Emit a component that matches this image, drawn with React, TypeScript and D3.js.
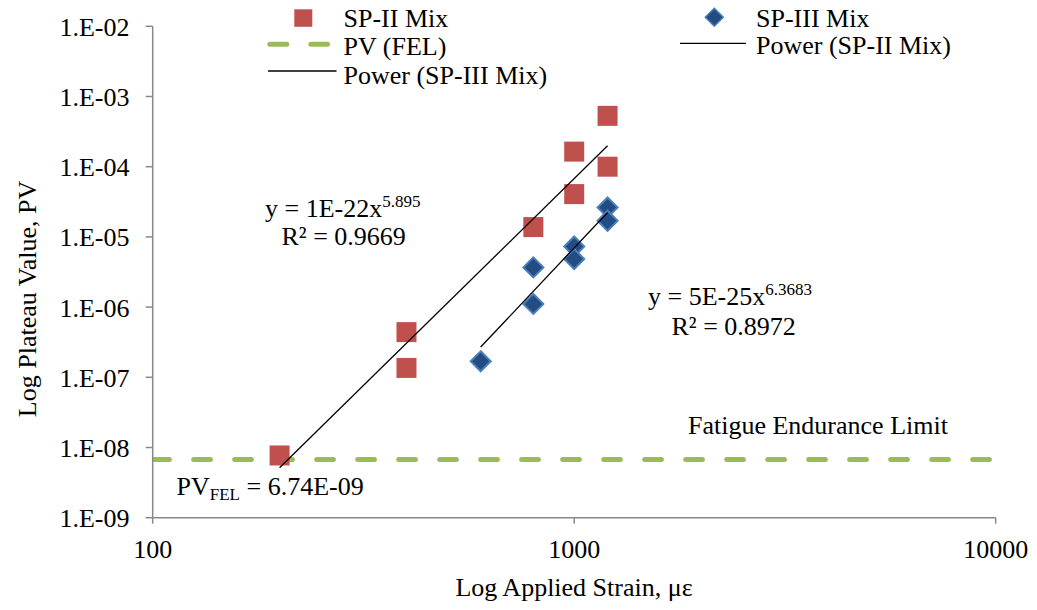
import React from "react";
import * as d3 from "d3";

// ---- Data ----
const sp2Strain = [200, 400, 400, 800, 1000, 1000, 1200, 1200];
const sp2PV = [7.7e-9, 4.4e-7, 1.36e-7, 1.38e-5, 1.64e-4, 4.07e-5, 5.3e-4, 1.0e-4];

const sp3Strain = [600, 800, 800, 1000, 1000, 1200, 1200];
const sp3PV = [1.69e-7, 3.68e-6, 1.11e-6, 7.3e-6, 4.85e-6, 2.63e-5, 1.7e-5];

// power trendlines y = a * x^b
const sp2Trend = { a: 1.4e-22, b: 5.895, from: 200, to: 1200 };
const sp3Trend = { a: 5.48e-25, b: 6.3683, from: 600, to: 1200 };

const pvFEL = 6.74e-9;

const xTicks = [100, 1000, 10000];
const xTickLabels = ["100", "1000", "10000"];
const yTicks = [1e-9, 1e-8, 1e-7, 1e-6, 1e-5, 1e-4, 1e-3, 1e-2];
const yTickLabels = ["1.E-09", "1.E-08", "1.E-07", "1.E-06", "1.E-05", "1.E-04", "1.E-03", "1.E-02"];

const W = 1037;
const H = 610;
const FONT = "'Liberation Serif', 'Times New Roman', serif";
const FS = 26;

const RED = "#C0504D";
const BLUE_FILL = "#234C83";
const BLUE_STROKE = "#4A7EBB";
const GREEN = "#9BBB59";
const AXIS = "#898989";

export default function App() {
  const x = d3.scaleLog().domain([100, 10000]).range([152.7, 995.7]);
  const y = d3.scaleLog().domain([1e-9, 1e-2]).range([517.7, 26.3]);

  const trendPath = (t: { a: number; b: number; from: number; to: number }) => {
    const pts: [number, number][] = [t.from, t.to].map((v) => [x(v), y(t.a * Math.pow(v, t.b))]);
    return d3.line()(pts) as string;
  };

  const sq = 20;
  const dia = 10;
  const diamond = (cx: number, cy: number, r: number) =>
    `M${cx},${cy - r}L${cx + r},${cy}L${cx},${cy + r}L${cx - r},${cy}Z`;

  const [x0, x1] = x.range();
  const [yb, yt] = y.range();

  return (
    <svg
      width={W}
      height={H}
      style={{ position: "absolute", left: 0, top: 0, background: "#fff" }}
      fontFamily={FONT}
    >
      <rect x={0} y={0} width={W} height={H} fill="#fff" />

      {/* FEL line */}
      <defs>
        <clipPath id="plotClip">
          <rect x={x0} y={yt - 20} width={x1 - x0} height={yb - yt + 40} />
        </clipPath>
      </defs>
      <line
        x1={x0}
        x2={x1 - 4}
        y1={y(pvFEL)}
        y2={y(pvFEL)}
        stroke={GREEN}
        strokeWidth={5}
        strokeDasharray="16.7 24.3"
        strokeLinecap="round"
        clipPath="url(#plotClip)"
      />

      {/* axes */}
      <line x1={x0} x2={x0} y1={yt} y2={yb} stroke={AXIS} strokeWidth={1.5} />
      <line x1={x0} x2={x1} y1={yb} y2={yb} stroke={AXIS} strokeWidth={1.5} />
      {yTicks.map((t, i) => (
        <g key={"yt" + i}>
          <line x1={x0 - 7} x2={x0} y1={y(t)} y2={y(t)} stroke={AXIS} strokeWidth={1.5} />
          <text x={129.5} y={y(t) + 9.5} textAnchor="end" fontSize={FS} fill="#000">
            {yTickLabels[i]}
          </text>
        </g>
      ))}
      {xTicks.map((t, i) => (
        <g key={"xt" + i}>
          <line x1={x(t)} x2={x(t)} y1={yb} y2={yb + 6} stroke={AXIS} strokeWidth={1.5} />
          <text x={x(t)} y={557.5} textAnchor="middle" fontSize={FS} fill="#000">
            {xTickLabels[i]}
          </text>
        </g>
      ))}

      {/* axis titles */}
      <text x={574} y={596} textAnchor="middle" fontSize={FS} fill="#000">
        Log Applied Strain, με
      </text>
      <text
        transform={`translate(36,299) rotate(-90)`}
        textAnchor="middle"
        fontSize={FS}
        fill="#000"
      >
        Log Plateau Value, PV
      </text>

      {/* markers */}
      {sp2Strain.map((v, i) => (
        <rect
          key={"s" + i}
          x={x(v) - sq / 2}
          y={y(sp2PV[i]) - sq / 2}
          width={sq}
          height={sq}
          fill={RED}
        />
      ))}
      {sp3Strain.map((v, i) => (
        <path
          key={"d" + i}
          d={diamond(x(v), y(sp3PV[i]), dia)}
          fill={BLUE_FILL}
          stroke={BLUE_STROKE}
          strokeWidth={2}
        />
      ))}

      {/* trendlines */}
      <path d={trendPath(sp2Trend)} stroke="#000" strokeWidth={1.3} fill="none" />
      <path d={trendPath(sp3Trend)} stroke="#000" strokeWidth={1.3} fill="none" />

      {/* equations */}
      <text x={265} y={217} fontSize={FS} fill="#000">
        y = 1E-22x
        <tspan fontSize={17} dy={-10}>5.895</tspan>
      </text>
      <text x={281.5} y={245} fontSize={FS} fill="#000">
        R² = 0.9669
      </text>
      <text x={648} y={305} fontSize={FS} fill="#000">
        y = 5E-25x
        <tspan fontSize={17} dy={-10}>6.3683</tspan>
      </text>
      <text x={671.5} y={335} fontSize={FS} fill="#000">
        R² = 0.8972
      </text>
      <text x={688} y={434} fontSize={FS} fill="#000">
        Fatigue Endurance Limit
      </text>
      <text x={176.5} y={495} fontSize={FS} fill="#000">
        PV
        <tspan fontSize={17} dy={4.5}>FEL</tspan>
        <tspan dy={-4.5}> = 6.74E-09</tspan>
      </text>

      {/* legend */}
      <rect x={294.3} y={9.3} width={18} height={17.5} fill={RED} />
      <text x={343.5} y={26.5} fontSize={FS} fill="#000">SP-II Mix</text>
      <line
        x1={269.8}
        x2={327.5}
        y1={44.3}
        y2={44.3}
        stroke={GREEN}
        strokeWidth={5}
        strokeDasharray="17 24"
        strokeLinecap="round"
      />
      <text x={343.5} y={55} fontSize={FS} fill="#000">PV (FEL)</text>
      <line x1={268} x2={336.5} y1={71} y2={71} stroke="#000" strokeWidth={1.3} />
      <text x={343.5} y={83.5} fontSize={FS} fill="#000">Power (SP-III Mix)</text>

      <path d={diamond(714.3, 17.3, 9)} fill={BLUE_FILL} stroke={BLUE_STROKE} strokeWidth={1.5} />
      <text x={756} y={26.5} fontSize={FS} fill="#000">SP-III Mix</text>
      <line x1={680} x2={746} y1={43.3} y2={43.3} stroke="#000" strokeWidth={1.3} />
      <text x={756} y={54} fontSize={FS} fill="#000">Power (SP-II Mix)</text>
    </svg>
  );
}
